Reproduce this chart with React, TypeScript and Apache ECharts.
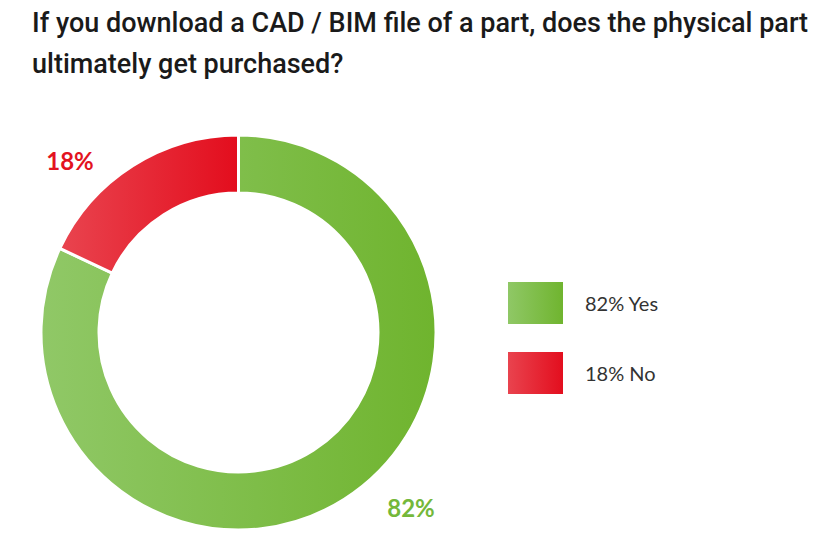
import React, { useEffect, useRef } from "react";
import * as echarts from "echarts";

const titleLines = [
  "If you download a CAD / BIM file of a part, does the physical part",
  "ultimately get purchased?",
];
const categories = ["Yes", "No"];
const values = [82, 18];
const gradients = [
  ["#90c867", "#6fb42e"],
  ["#e9444f", "#e30d1d"],
];
const labelColors = ["#74b83a", "#e3131f"];

export default function App() {
  const ref = useRef<HTMLDivElement>(null);
  useEffect(() => {
    document.body.style.margin = "0";
    const chart = echarts.init(ref.current!, null, { renderer: "svg" });
    const grad = (c: string[]) =>
      new echarts.graphic.LinearGradient(0, 0, 1, 0, [
        { offset: 0, color: c[0] },
        { offset: 1, color: c[1] },
      ]);
    chart.setOption({
      animation: false,
      backgroundColor: "#ffffff",
      title: {
        text: titleLines.join("\n"),
        left: 27,
        top: -3,
        textStyle: {
          fontFamily: "Roboto",
          fontWeight: 500,
          fontSize: 27,
          lineHeight: 41,
          color: "#1a1a1a",
        },
      },
      legend: {
        orient: "vertical",
        left: 506,
        top: 280,
        padding: 0,
        itemWidth: 57,
        itemHeight: 44,
        itemGap: 24,
        icon: "rect",
        selectedMode: false,
        formatter: (name: string) => {
          const i = categories.indexOf(name);
          return `${values[i]}% ${name}`;
        },
        textStyle: {
          fontFamily: "Lato",
          fontSize: 20,
          color: "#333333",
          padding: [0, 0, 0, 16],
        },
      },
      series: [
        {
          type: "pie",
          center: [238.5, 332.5],
          radius: [139.5, 197.5],
          startAngle: 90,
          clockwise: true,
          avoidLabelOverlap: false,
          itemStyle: { borderColor: "#ffffff", borderWidth: 3 },
          label: {
            show: true,
            position: "outside",
            formatter: (p: any) => `${p.value}%`,
            fontFamily: "Lato",
            fontWeight: "bold",
            fontSize: 24,
          },
          labelLine: { show: false },
          labelLayout: (p: any) =>
            p.dataIndex === 0
              ? { x: 411, y: 507, align: "center", verticalAlign: "middle" }
              : { x: 70, y: 160, align: "center", verticalAlign: "middle" },
          emphasis: { disabled: true },
          data: categories.map((name, i) => ({
            name,
            value: values[i],
            itemStyle: { color: grad(gradients[i]) },
            label: { color: labelColors[i] },
          })),
        },
      ],
    });
    return () => chart.dispose();
  }, []);
  return <div ref={ref} style={{ width: 825, height: 557 }} />;
}
